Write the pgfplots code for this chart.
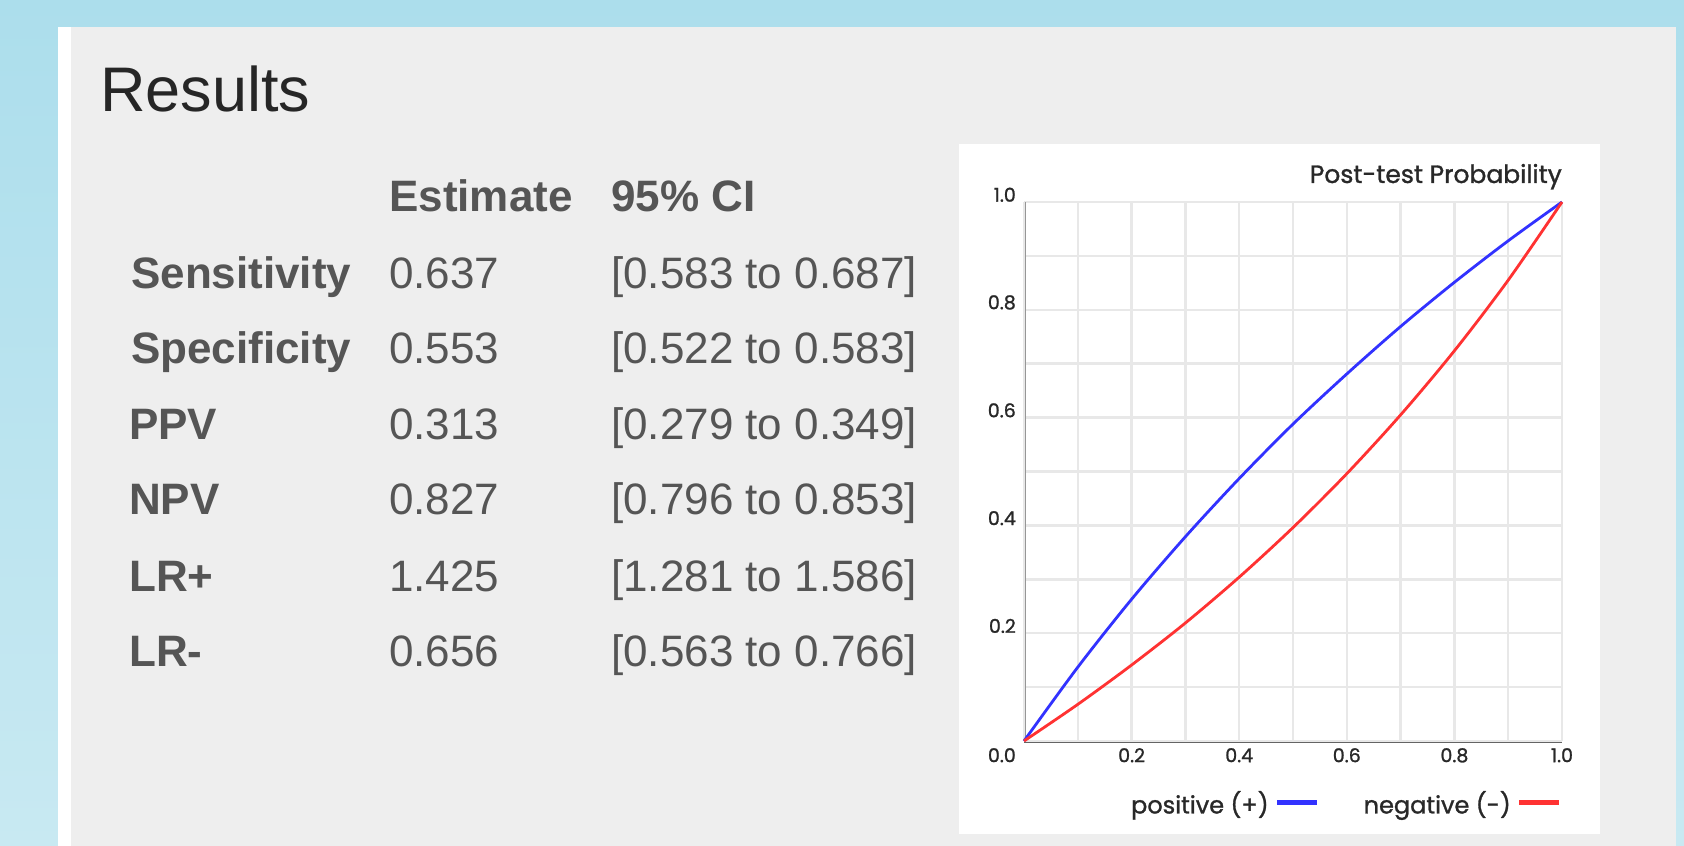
\documentclass[border=0pt]{standalone}
\usepackage{pgfplots}
\pgfplotsset{compat=1.18}
\usepackage{fontspec}
\setmainfont{Liberation Sans}
\newfontfamily\pop{Poppins}[FakeBold=1.2]
\definecolor{bgblue}{RGB}{172,222,236}
\definecolor{bgblue2}{RGB}{200,233,242}
\definecolor{panel}{RGB}{238,238,238}
\definecolor{txt}{RGB}{85,85,85}
\definecolor{ttl}{RGB}{38,38,38}
\definecolor{gridc}{RGB}{232,232,232}
\definecolor{axc}{RGB}{150,150,150}
\definecolor{axd}{RGB}{100,100,100}
\definecolor{chtxt}{RGB}{40,40,40}
\definecolor{posblue}{RGB}{50,50,255}
\definecolor{negred}{RGB}{255,50,50}
\begin{document}
\begin{tikzpicture}[x=1pt,y=1pt]
\shade[top color=bgblue, bottom color=bgblue2] (0,0) rectangle (1684,846);
\fill[white] (58,0) rectangle (71,819);
\fill[panel] (71,0) rectangle (1676,819);
\node[anchor=base west, inner sep=0pt, text=ttl, font=\fontsize{63}{63}\selectfont] at (100,734) {Results};
% table
\begin{scope}[every node/.style={anchor=base west, inner sep=0pt, text=txt, font=\fontsize{44}{44}\selectfont}]
\node[font=\fontsize{44}{44}\selectfont\bfseries] at (389,634) {Estimate};
\node[font=\fontsize{44}{44}\selectfont\bfseries] at (611,634) {95\% CI};
\node[font=\fontsize{44}{44}\selectfont\bfseries] at (131,557) {Sensitivity};
\node at (389,557) {0.637};
\node at (611,557) {[0.583 to 0.687]};
\node[font=\fontsize{44}{44}\selectfont\bfseries] at (131,482) {Specificity};
\node at (389,482) {0.553};
\node at (611,482) {[0.522 to 0.583]};
\node[font=\fontsize{44}{44}\selectfont\bfseries] at (129,406) {PPV};
\node at (389,406) {0.313};
\node at (611,406) {[0.279 to 0.349]};
\node[font=\fontsize{44}{44}\selectfont\bfseries] at (129,331) {NPV};
\node at (389,331) {0.827};
\node at (611,331) {[0.796 to 0.853]};
\node[font=\fontsize{44}{44}\selectfont\bfseries] at (129,254) {LR+};
\node at (389,254) {1.425};
\node at (611,254) {[1.281 to 1.586]};
\node[font=\fontsize{44}{44}\selectfont\bfseries] at (129,179) {LR-};
\node at (389,179) {0.656};
\node at (611,179) {[0.563 to 0.766]};
\end{scope}
% chart panel
\fill[white] (959,12) rectangle (1600,702);
\begin{axis}[
  at={(1024pt,105pt)}, anchor=south west,
  scale only axis, width=538pt, height=539pt,
  xmin=0, xmax=1, ymin=0, ymax=1,
  axis lines=left,
  x axis line style={-, draw=axd, line width=3pt},
  y axis line style={-, draw=axc, line width=3pt},
  xtick={0.2,0.4,0.6,0.8,1.0}, xticklabels={0.2,0.4,0.6,0.8,1.0},
  ytick={0.2,0.4,0.6,0.8,1.0}, yticklabels={0.2,0.4,0.6,0.8,1.0},
  extra x ticks={0}, extra x tick labels={},
  extra y ticks={0}, extra y tick labels={},
  minor xtick={0.1,0.3,0.5,0.7,0.9}, minor ytick={0.1,0.3,0.5,0.7,0.9},
  grid=both,
  major grid style={draw=gridc, line width=2.5pt},
  minor grid style={draw=gridc, line width=2.5pt},
  major tick length=0pt, minor tick length=0pt,
  tick label style={font=\pop\fontsize{19}{19}\selectfont, text=chtxt, inner sep=0pt},
  xticklabel style={anchor=north, yshift=-7pt},
  yticklabel style={anchor=south east, xshift=-8pt},
  clip=false,
  legend columns=2,
  legend plot pos=right,
  legend style={at={(1,-0.115)}, anchor=east, draw=none, fill=none, inner sep=0pt,
    font=\pop\fontsize{24}{24}\selectfont, text=chtxt,
    nodes={inner sep=0pt},
    /tikz/every odd column/.append style={column sep=6pt},
    /tikz/every even column/.append style={column sep=44pt}},
  legend image code/.code={\draw[#1, line width=5pt] (0pt,0pt) -- (40pt,0pt);},
]
\addplot[posblue, line width=2.8pt, smooth] coordinates {
(0,0) (0.1,0.137) (0.2,0.263) (0.3,0.379) (0.4,0.487) (0.5,0.588)
(0.6,0.681) (0.7,0.769) (0.8,0.851) (0.9,0.928) (1,1)};
\addlegendentry{positive (+)}
\addplot[negred, line width=2.8pt, smooth] coordinates {
(0,0) (0.1,0.068) (0.2,0.141) (0.3,0.219) (0.4,0.304) (0.5,0.396)
(0.6,0.496) (0.7,0.605) (0.8,0.724) (0.9,0.855) (1,1)};
\addlegendentry{negative (-)}
\node[anchor=north east, inner sep=0pt, xshift=-8pt, yshift=-7pt, font=\pop\fontsize{19}{19}\selectfont, text=chtxt] at (axis cs:0,0) {0.0};
\end{axis}
\node[anchor=base east, inner sep=0pt, text=chtxt, font=\pop\fontsize{25}{25}\selectfont] at (1562,663) {Post-test Probability};
\end{tikzpicture}
\end{document}
